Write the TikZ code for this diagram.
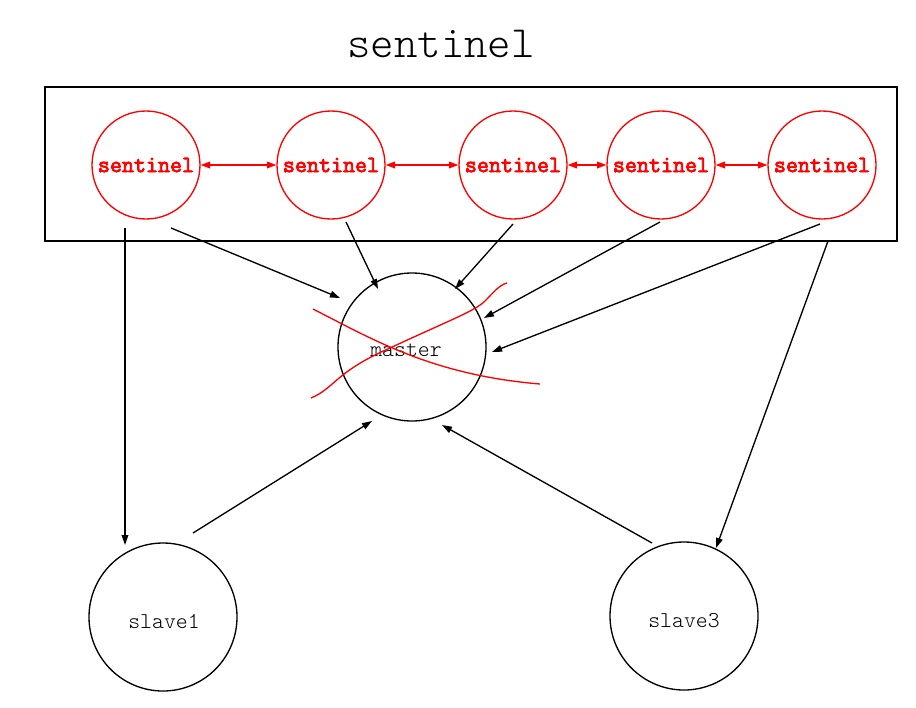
\documentclass[tikz,border=0pt]{standalone}
\usepackage{fontspec}
\newfontfamily\sentfont{Latin Modern Mono}[FakeBold=3.5]
\newfontfamily\lightmono{Latin Modern Mono Light}
\usetikzlibrary{arrows.meta,calc}
\begin{document}
\begin{tikzpicture}[x=0.75pt,y=-0.75pt,
  sent/.style={circle,draw=red,line width=1pt,minimum size=81pt,inner sep=0pt,text=red,font=\sentfont\fontsize{17.5}{19}\selectfont},
  plain/.style={circle,draw=black,line width=1pt,minimum size=111pt,inner sep=0pt},
  lab/.style={font=\lightmono\fontsize{17}{19}\selectfont},
  arr/.style={line width=1pt,-{Triangle[length=7.5pt,width=5pt]}},
  darr/.style={red,line width=1pt,{Triangle[length=7pt,width=5pt]}-{Triangle[length=7pt,width=5pt]}},
  cross/.style={red,line width=1pt}]
\useasboundingbox (0,0) rectangle (916,707);
\node[font=\lightmono\fontsize{33.5}{36}\selectfont] (title) at (441,44) {sentinel};
\node[draw,line width=1pt,minimum width=639pt,minimum height=115.5pt,inner sep=0pt] (box) at (471,164) {};
\node[sent] (s1) at (146,165) {sentinel};
\node[sent] (s2) at (331,165) {sentinel};
\node[sent] (s3) at (513,165) {sentinel};
\node[sent] (s4) at (661,165) {sentinel};
\node[sent] (s5) at (822,165) {sentinel};
\node[plain] (m) at (412,347) {};
\node[lab] (mlab) at (406,350) {master};
\node[plain] (sl1) at (163,617) {};
\node[lab] (sl1lab) at (164,622) {slave1};
\node[plain] (sl3) at (684,616) {};
\node[lab] (sl3lab) at (684,621) {slave3};
\draw[darr] (s1) -- (s2);
\draw[darr] (s2) -- (s3);
\draw[darr] (s3) -- (s4);
\draw[darr] (s4) -- (s5);
\draw[arr] ($(s1)+(-21,63)$) -- ($(sl1)+(-38,-72)$);
\draw[arr] ($(s1)+(25,63)$) -- ($(m)+(-72,-49)$);
\draw[arr] ($(s2)+(15,57)$) -- ($(m)+(-34,-58)$);
\draw[arr] ($(s3)+(0,59)$) -- ($(m)+(43,-58)$);
\draw[arr] ($(s4)+(-1,57)$) -- ($(m)+(72,-29)$);
\draw[arr] ($(s5)+(-2,59)$) -- ($(m)+(80,5)$);
\draw[arr] ($(s5)+(6,76)$) -- ($(sl3)+(32,-68)$);
\draw[arr] ($(sl1)+(30,-84)$) -- ($(m)+(-40,74)$);
\draw[arr] ($(sl3)+(-32,-73)$) -- ($(m)+(30,78)$);
\draw[cross] ($(m)+(-99,-38)$) .. controls ($(m)+(-40,-8)$) and ($(m)+(20,28)$) .. ($(m)+(128,37)$);
\draw[cross] ($(m)+(-101,51)$) .. controls ($(m)+(-77,41)$) and ($(m)+(-77,25)$) .. ($(m)+(-22,1)$) .. controls ($(m)+(38,-27)$) and ($(m)+(63,-36)$) .. ($(m)+(73,-46)$) .. controls ($(m)+(81,-54)$) and ($(m)+(87,-62)$) .. ($(m)+(95,-64)$);
\end{tikzpicture}
\end{document}
